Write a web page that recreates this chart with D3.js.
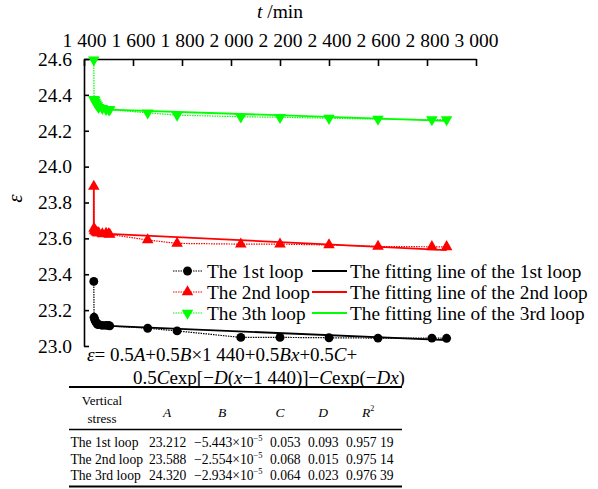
<!DOCTYPE html>
<html><head><meta charset="utf-8">
<script src="https://cdn.jsdelivr.net/npm/d3@7"></script>
</head>
<body style="margin:0"><svg id="c" width="598" height="489"></svg>
<script>
// ---- data ----
const times = [1440,1441,1443,1446,1450,1455,1460,1475,1490,1500,1505,1660,1780,2040,2200,2400,2600,2820,2880];
const loop1 = [23.36,23.16,23.15,23.14,23.13,23.12,23.12,23.115,23.115,23.115,23.112,23.099,23.084,23.048,23.048,23.046,23.044,23.044,23.043];
const loop2 = [23.89,23.655,23.645,23.64,23.635,23.63,23.63,23.625,23.628,23.625,23.622,23.591,23.572,23.568,23.568,23.563,23.555,23.553,23.553];
const loop3 = [24.595,24.375,24.37,24.36,24.35,24.34,24.33,24.325,24.32,24.32,24.318,24.30,24.287,24.278,24.275,24.27,24.265,24.262,24.262];
const fitTimes1 = [1440,1450,1470,1500,2880];
const fit1 = [23.15,23.125,23.115,23.112,23.033];
const fitTimes2 = [1440,1440,1450,1500,2880];
const fit2 = [23.885,23.64,23.632,23.625,23.535];
const fitTimes3 = [1440,1450,1500,2880];
const fit3 = [24.37,24.34,24.318,24.255];
const xTicks = [1400,1600,1800,2000,2200,2400,2600,2800,3000];
const yTicks = [23.0,23.2,23.4,23.6,23.8,24.0,24.2,24.4,24.6];
const seriesNames = ["The 1st loop","The 2nd loop","The 3th loop"];
const fitNames = ["The fitting line of the 1st loop","The fitting line of the 2nd loop","The fitting line of the 3rd loop"];
const colors = ["#000000","#ff0000","#00ff00"];
const tableRows = ["The 1st loop","The 2nd loop","The 3rd loop"];
const colA = ["23.212","23.588","24.320"];
const colB = ["\u22125.443\u00d710","\u22122.554\u00d710","\u22122.934\u00d710"];
const colC = ["0.053","0.068","0.064"];
const colD = ["0.093","0.015","0.023"];
const colR2 = ["0.957 19","0.975 14","0.976 39"];

// ---- chart ----
const FF = '"Liberation Serif"';
const svg = d3.select("#c");
const L=84, R=476, T=59, B=346;
const x = d3.scaleLinear().domain([1400,3000]).range([L,R]);
const y = d3.scaleLinear().domain([23.0,24.6]).range([B,T]);
const fmtX = d => { const s=String(d); return s.slice(0,s.length-3)+" "+s.slice(-3); };
const txt = (sel) => sel.append("text").style("font-family",FF);

// axes
const topAxis = svg.append("g").attr("transform",`translate(0,${T})`)
  .call(d3.axisTop(x).tickValues(xTicks).tickFormat(fmtX).tickSizeInner(-7).tickSizeOuter(0).tickPadding(12));
topAxis.attr("font-family",null).attr("font-size",null);
topAxis.select(".domain").attr("stroke","#000").attr("stroke-width",1.6);
topAxis.selectAll(".tick line").attr("stroke-width",1.6);
topAxis.selectAll("text").style("font-family",FF).style("font-size","19.5px").attr("fill","#000");
const leftAxis = svg.append("g").attr("transform",`translate(${L},0)`)
  .call(d3.axisLeft(y).tickValues(yTicks).tickFormat(d3.format(".1f")).tickSizeInner(-5).tickSizeOuter(0).tickPadding(12));
leftAxis.attr("font-family",null).attr("font-size",null);
leftAxis.select(".domain").attr("stroke","#000").attr("stroke-width",1.6);
leftAxis.selectAll(".tick line").attr("stroke-width",1.6);
leftAxis.selectAll("text").style("font-family",FF).style("font-size","19.5px").attr("fill","#000");

txt(svg).attr("x",(L+R)/2).attr("y",18).attr("text-anchor","middle").attr("font-size",19.5)
  .html('<tspan font-style="italic">t</tspan> /min');
txt(svg).attr("transform",`translate(22,${(T+B)/2-4}) rotate(-90)`).attr("text-anchor","middle")
  .attr("font-size",21).attr("font-style","italic").text("\u03b5");

const lineGen = d3.line().x(d=>x(d[0])).y(d=>y(d[1]));
const data = [loop1,loop2,loop3];
const fitT = [fitTimes1,fitTimes2,fitTimes3];
const fits = [fit1,fit2,fit3];
const symbols = [d3.symbol().type(d3.symbolCircle).size(62), d3.symbol().type(d3.symbolTriangle).size(58), d3.symbol().type(d3.symbolTriangle).size(58)];
const rot = [0,0,180];

for (let i=0;i<3;i++){
  const pts = times.map((t,k)=>[t,data[i][k]]);
  svg.append("path").attr("d",lineGen(pts)).attr("fill","none").attr("stroke",colors[i])
    .attr("stroke-width",1.2).attr("stroke-dasharray","1.5,1");
  svg.append("path").attr("d",lineGen(fitT[i].map((t,k)=>[t,fits[i][k]]))).attr("fill","none")
    .attr("stroke",colors[i]).attr("stroke-width",1.8);
  svg.append("g").selectAll("path").data(pts).join("path").attr("d",symbols[i])
    .attr("transform",d=>`translate(${x(d[0])},${y(d[1])}) rotate(${rot[i]})`).attr("fill",colors[i]);
}

// legend
const legY = [271,292,313];
for (let i=0;i<3;i++){
  const g = svg.append("g");
  g.append("line").attr("x1",173).attr("x2",202).attr("y1",legY[i]).attr("y2",legY[i]).attr("stroke",colors[i])
    .attr("stroke-width",1.2).attr("stroke-dasharray","1.5,1");
  g.append("path").attr("d",symbols[i]).attr("transform",`translate(187.5,${legY[i]}) rotate(${rot[i]})`).attr("fill",colors[i]);
  txt(g).attr("x",207).attr("y",legY[i]+6.5).attr("font-size",19.3).text(seriesNames[i]);
  g.append("line").attr("x1",312).attr("x2",347).attr("y1",legY[i]).attr("y2",legY[i]).attr("stroke",colors[i]).attr("stroke-width",1.8);
  txt(g).attr("x",350).attr("y",legY[i]+6.5).attr("font-size",19.3).text(fitNames[i]);
}

// formula
txt(svg).attr("x",87).attr("y",361).attr("font-size",19)
  .html('<tspan font-style="italic">\u03b5</tspan>= 0.5<tspan font-style="italic">A</tspan>+0.5<tspan font-style="italic">B</tspan>\u00d71 440+0.5<tspan font-style="italic">Bx</tspan>+0.5<tspan font-style="italic">C</tspan>+');
txt(svg).attr("x",133).attr("y",384).attr("font-size",19)
  .html('0.5<tspan font-style="italic">C</tspan>exp[\u2212<tspan font-style="italic">D</tspan>(<tspan font-style="italic">x</tspan>\u22121 440)]\u2212<tspan font-style="italic">C</tspan>exp(\u2212<tspan font-style="italic">Dx</tspan>)');

// table
const tl=69, tr=402;
svg.append("line").attr("x1",tl).attr("x2",tr).attr("y1",387).attr("y2",387).attr("stroke","#000").attr("stroke-width",2);
svg.append("line").attr("x1",tl).attr("x2",tr).attr("y1",429.5).attr("y2",429.5).attr("stroke","#000").attr("stroke-width",1.5);
svg.append("line").attr("x1",tl).attr("x2",tr).attr("y1",486.5).attr("y2",486.5).attr("stroke","#000").attr("stroke-width",2);
txt(svg).attr("x",102).attr("y",405).attr("text-anchor","middle").attr("font-size",13).text("Vertical");
txt(svg).attr("x",102).attr("y",423).attr("text-anchor","middle").attr("font-size",13).text("stress");
const hdr = [["A",167],["B",222],["C",280],["D",323]];
hdr.forEach(h=>txt(svg).attr("x",h[1]).attr("y",417).attr("text-anchor","middle").attr("font-size",13.5).attr("font-style","italic").text(h[0]));
txt(svg).attr("x",368).attr("y",417).attr("text-anchor","middle").attr("font-size",13.5)
  .html('<tspan font-style="italic">R</tspan><tspan font-size="8" dy="-6">2</tspan>');
const rowY = [447,463.5,480];
for (let i=0;i<3;i++){
  const fs=13.6;
  txt(svg).attr("x",70.5).attr("y",rowY[i]).attr("font-size",fs).text(tableRows[i]);
  txt(svg).attr("x",149).attr("y",rowY[i]).attr("font-size",fs).text(colA[i]);
  txt(svg).attr("x",194).attr("y",rowY[i]).attr("font-size",fs)
    .html(colB[i]+'<tspan font-size="8.5" dy="-6">\u22125</tspan>');
  txt(svg).attr("x",270).attr("y",rowY[i]).attr("font-size",fs).text(colC[i]);
  txt(svg).attr("x",308).attr("y",rowY[i]).attr("font-size",fs).text(colD[i]);
  txt(svg).attr("x",346).attr("y",rowY[i]).attr("font-size",fs).text(colR2[i]);
}
</script></body></html>
